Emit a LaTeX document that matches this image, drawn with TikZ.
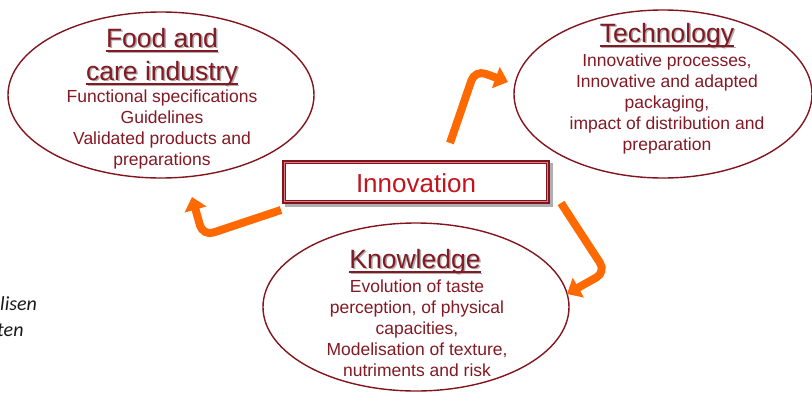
\documentclass[tikz,border=0pt]{standalone}
\usepackage{fontspec}
\setmainfont{Liberation Sans}
\newfontfamily\strayfont{Carlito}
\usetikzlibrary{shapes.geometric,arrows.meta}
\definecolor{maroon}{RGB}{130,25,35}
\definecolor{edgered}{RGB}{130,20,30}
\definecolor{innored}{RGB}{195,20,30}
\definecolor{orng}{RGB}{255,105,0}
\definecolor{shad}{RGB}{175,175,175}
\newcommand\hul[1]{\setbox0\hbox{#1}\rlap{\rule[-4.5pt]{\wd0}{1.4pt}}\box0}
\begin{document}
\begin{tikzpicture}[x=1pt,y=-1pt,
  bubble/.style={ellipse, draw=edgered, line width=1.4pt, inner sep=0},
  headtxt/.style={align=center, anchor=base, inner sep=0, text=maroon, font=\fontsize{26.5}{33}\selectfont},
  headshadow/.style={headtxt, text=shad},
  bodytxt/.style={align=center, anchor=base, inner sep=0, text=maroon, font=\fontsize{17.5}{21}\selectfont},
  arr/.style={draw=orng, line width=8pt, rounded corners=11pt, -{Triangle[width=22pt,length=13pt]}},
  straytxt/.style={anchor=base west, inner sep=0, text=black!90, font=\strayfont\itshape\fontsize{20}{22}\selectfont},
]
\useasboundingbox (0,0) rectangle (812,394);
% ellipses
\node[bubble, minimum width=306, minimum height=166] (food) at (161,95) {};
\node[bubble, minimum width=298, minimum height=168] (tech) at (663,94) {};
\node[bubble, minimum width=306, minimum height=168] (know) at (416,307) {};
% innovation box
\fill[shad] (285,163) rectangle (553,207);
\node[draw=edgered, fill=white, line width=3.5pt, minimum width=264, minimum height=40, inner sep=0] (inno) at (416,182) {};
\draw[innored!55, line width=0.8pt] ([shift={(2.6,2.6)}]inno.north west) rectangle ([shift={(-2.6,-2.6)}]inno.south east);
\node[anchor=base, inner sep=0, text=innored, font=\fontsize{26}{30}\selectfont] (innot) at (416,192) {Innovation};
% headings (base anchor = last line)
\node[headshadow] (foodhs) at (163.5,81.5) {\hul{Food and}\\\hul{care industry}};
\node[headtxt] (foodh) at (162,80) {\hul{Food and}\\\hul{care industry}};
\node[headshadow] (techhs) at (668.5,43.5) {\hul{Technology}};
\node[headtxt] (techh) at (667,42) {\hul{Technology}};
\node[headshadow] (knowhs) at (416.5,269.5) {\hul{Knowledge}};
\node[headtxt] (knowh) at (415,268) {\hul{Knowledge}};
% bodies
\node[bodytxt] (foodb) at (162,165) {Functional specifications\\Guidelines\\Validated products and\\preparations};
\node[bodytxt] (techb) at (667,150) {Innovative processes,\\Innovative and adapted\\packaging,\\impact of distribution and\\preparation};
\node[bodytxt] (knowb) at (417,376) {Evolution of taste\\perception, of physical\\capacities,\\Modelisation of texture,\\nutriments and risk};
% arrows
\coordinate (a1s) at (450,143); \coordinate (a1c) at (475,70); \coordinate (a1e) at (508,82);
\coordinate (a2s) at (281,210); \coordinate (a2c) at (203,236); \coordinate (a2e) at (192,197);
\coordinate (a3s) at (561,203); \coordinate (a3c) at (606,272); \coordinate (a3e) at (567,294);
\draw[arr] (a1s) -- (a1c) -- (a1e);
\draw[arr] (a2s) -- (a2c) -- (a2e);
\draw[arr] (a3s) -- (a3c) -- (a3e);
% stray text
\node[straytxt] (s1) at (0,310) {lisen};
\node[straytxt] (s2) at (-3,336) {ten};
\end{tikzpicture}
\end{document}
